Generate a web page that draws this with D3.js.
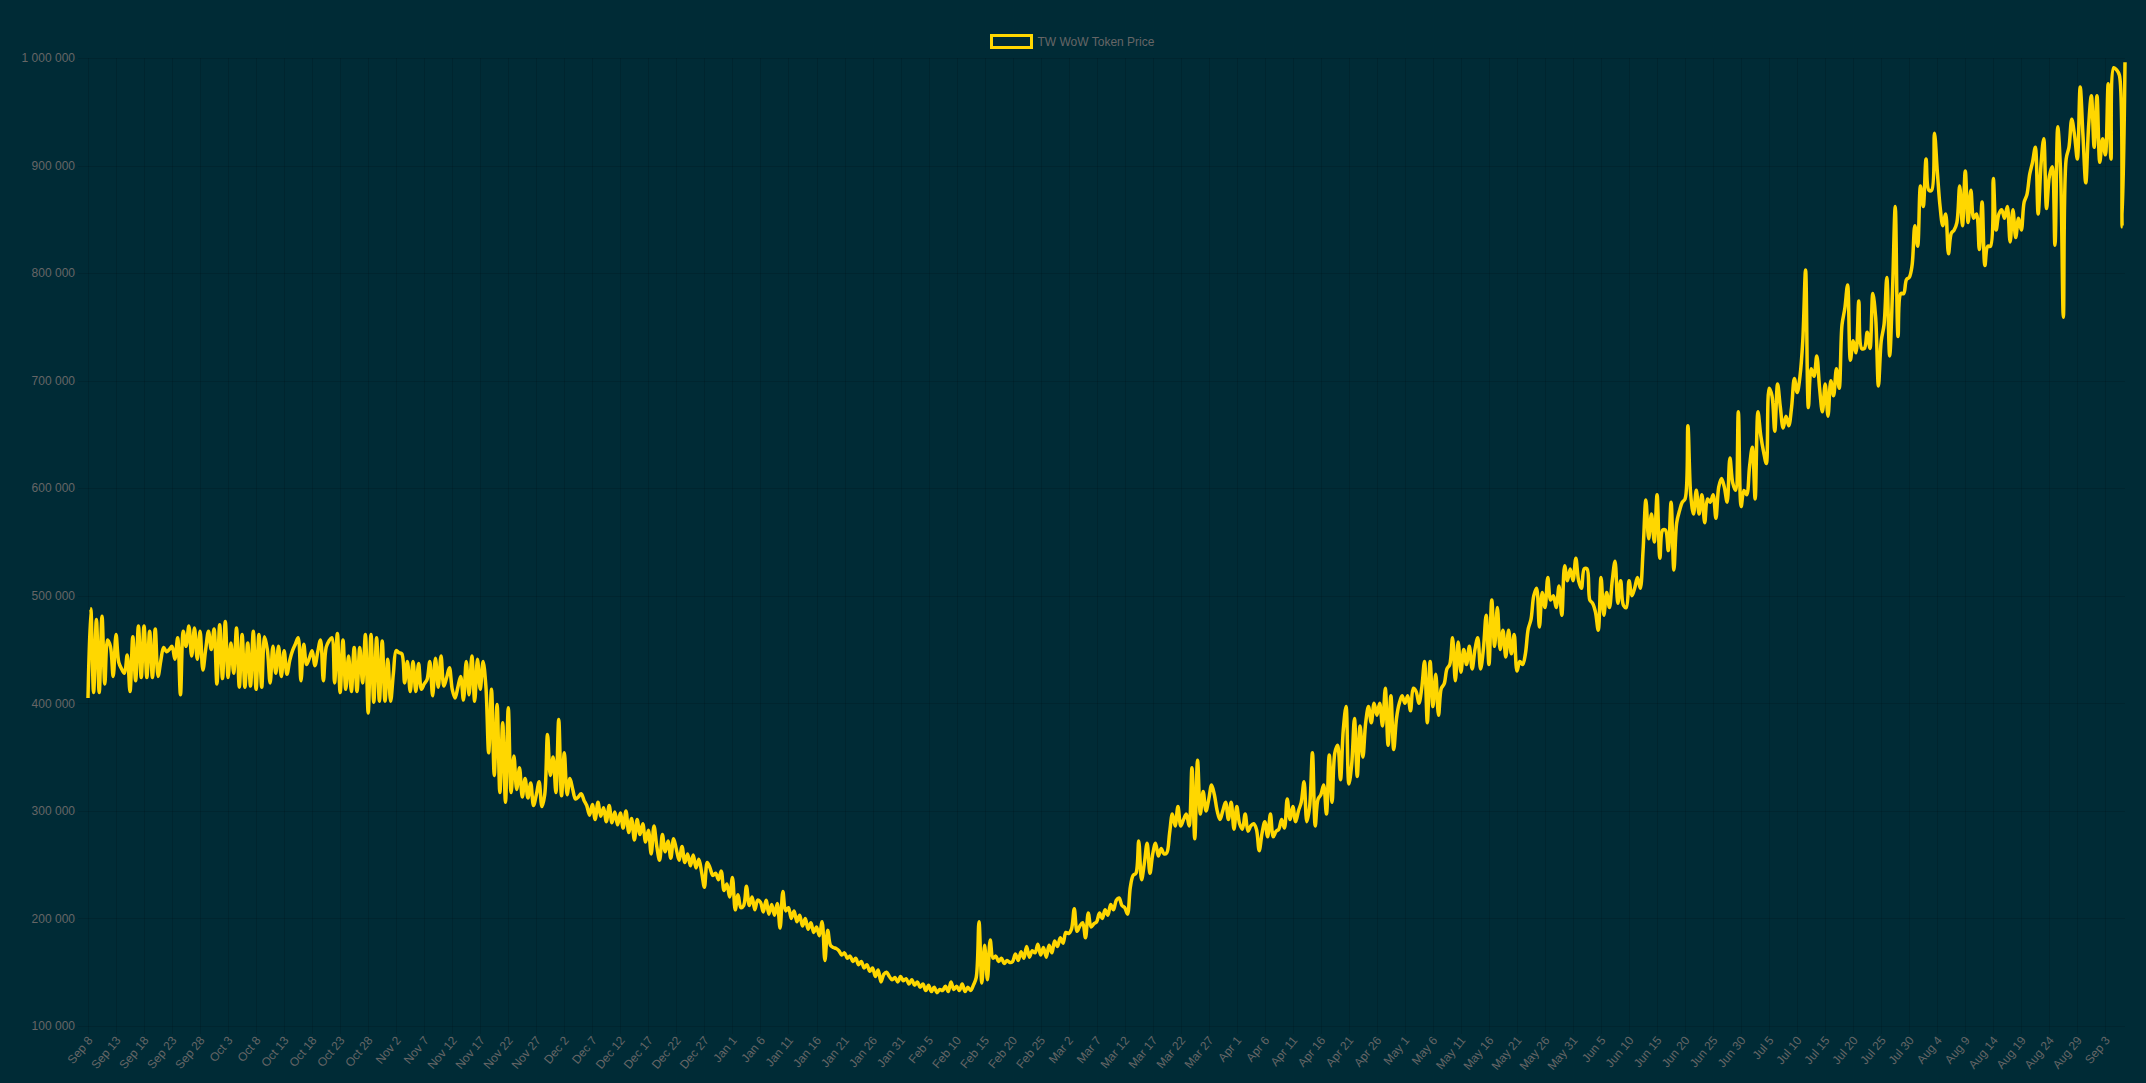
<!DOCTYPE html>
<html>
<head>
<meta charset="utf-8">
<script src="https://cdn.jsdelivr.net/npm/d3@7"></script>
<style>
  body { margin: 0; background: #002b36; }
  text { font-family: Arial, "Liberation Sans", sans-serif; font-size: 12px; fill: #666; }
</style>
</head>
<body>
<div id="chart"></div>
<script>
// token price in thousands of gold, one reading every 12 hours from 8 Sep 2022
let autumnPrices = [
  405, 488, 410, 478, 410, 481, 418, 459, 453, 425,
  464, 438, 432, 428, 445, 411, 462, 421, 472, 424,
  472, 424, 467, 424, 469, 425, 440, 452, 448, 450,
  453, 441, 461, 408, 467, 453, 472, 444, 470, 441,
  467, 431, 450, 467, 450, 469, 418, 473, 423, 476,
  424, 456, 428, 470, 415, 464, 415, 456, 416, 467,
  413, 464, 415, 462, 450, 419, 453, 428, 453, 425,
  449, 427, 440, 449, 455, 461, 421, 455, 436, 442,
  449, 435, 448, 459, 421, 452, 458, 461, 419, 465,
  410, 459, 413, 444, 411, 452, 411, 452, 419, 464,
  391, 464, 401, 461, 402, 458, 402, 441, 402, 428,
  449, 447, 446, 419, 439, 411, 439, 411, 437, 413,
  418, 422, 439, 407, 442, 415, 444, 416, 424, 433,
  413, 405, 415, 425, 403, 439, 408, 444, 402, 441,
  413, 439, 416, 354, 413, 333, 399, 317, 382, 308,
  396, 317, 351, 320, 340, 313, 330, 312, 326, 305,
  315, 327, 304, 315, 371, 333, 350, 317, 385, 314,
  354, 315, 330, 320, 311, 313, 316, 310, 305, 296
];
let winterPrices = [
  306, 292, 308, 295, 303, 290, 305, 289, 299, 287,
  298, 284, 300, 280, 293, 273, 292, 278, 288, 271,
  282, 260, 286, 267, 254, 278, 262, 272, 256, 274,
  264, 254, 267, 252, 260, 249, 259, 247, 255, 243,
  229, 252, 247, 240, 242, 236, 244, 226, 232, 220,
  238, 208, 222, 210, 212, 230, 212, 220, 208, 217,
  215, 206, 217, 204, 213, 203, 214, 191, 225, 207,
  210, 200, 207, 197, 203, 193, 200, 190, 196, 187,
  192, 184, 197, 161, 189, 175, 173, 172, 170, 166,
  168, 163, 165, 160, 163, 157, 160, 154, 157, 151,
  154, 146, 152, 141, 148, 150, 146, 143, 145, 141,
  146, 142, 144, 139, 143, 138, 141, 136, 139, 133,
  138, 132, 136, 131, 134, 133, 137, 132, 141, 134,
  137, 133, 139, 132, 136, 133, 138, 145, 197, 140,
  175, 143, 180, 163, 165, 160, 163, 158, 161, 159,
  160, 167, 161, 169, 163, 174, 164, 170, 168, 176,
  166, 173, 164, 175, 168, 179, 174, 182, 177, 187,
  186, 190, 209, 188, 193, 196, 182, 205, 192, 195,
  197, 205, 200, 208, 203, 213
];
let springPrices = [
  208, 217, 219, 212, 210, 204, 229, 240, 242, 272,
  236, 251, 270, 242, 260, 270, 258, 265, 260, 261,
  279, 297, 286, 304, 286, 292, 297, 286, 340, 274,
  347, 297, 318, 300, 311, 324, 315, 300, 292, 300,
  308, 292, 308, 283, 304, 288, 283, 297, 281,
  286, 288, 283, 263, 279, 290, 276, 297, 276, 281,
  283, 292, 284, 311, 292, 304, 290, 300, 308, 327,
  290, 304, 354, 286, 311, 315, 324, 297, 352, 308,
  354, 361, 329, 375, 397, 325, 343, 386, 332, 379,
  350, 382, 397, 382, 400, 389, 400, 379, 414, 361,
  407, 357, 386, 400, 407, 400, 407, 393, 414, 411,
  400, 414, 439, 382, 439, 397, 427, 389, 414, 418,
  432, 436, 461, 421, 457, 429, 450, 436, 453, 432,
  450, 461, 432, 450, 482, 436, 496, 453, 489, 450,
  468, 443, 468, 446, 464, 430, 439, 436, 446, 469,
  478, 500, 507, 471, 503, 489, 517, 496, 500, 489,
  509, 482, 528, 514, 525, 514, 535, 514, 507, 525,
  525, 496, 493, 485, 468, 517, 482, 503, 489,
  514, 532, 493, 514, 491, 489, 514, 500, 507, 517,
  507, 542, 589, 553
];
let summerPrices = [
  576, 550, 594, 535, 561, 561, 542, 587, 524, 568,
  579, 587, 590, 658, 594, 576, 598, 576, 594,
  568, 590, 587, 594, 572, 601, 609, 601, 587, 628,
  605, 598, 671, 583, 598, 594, 620, 638, 590, 671,
  649, 634, 623, 693, 686, 653, 697, 675, 656, 667,
  658, 675, 702, 689, 704, 737, 803, 675, 711, 704,
  723, 693, 671, 697, 667, 700, 686, 711, 693, 752,
  767, 789, 719, 737, 726, 774, 730, 730, 745, 730,
  781, 759, 695, 737, 752, 796, 723, 781, 862, 741,
  781, 781, 794, 796, 807, 844, 825, 881, 862, 906,
  877, 877, 930, 895, 862, 844, 855, 818, 837, 840,
  847, 881, 844, 895, 847, 877, 851, 855, 822, 866,
  807, 825, 825, 888, 840, 855, 859, 851, 862, 829,
  859, 833, 851, 840, 866, 873, 892, 903, 917,
  855, 900, 925, 860, 890, 899, 826, 936, 895, 759,
  906, 917, 943, 928, 906, 973, 928, 884, 936, 965,
  917, 965, 903, 925, 910, 976, 906, 991, 989, 984, 843, 996
];

let seriesName = 'TW WoW Token Price';
let startDate = Date.UTC(2022, 8, 8);
let stepHours = 12;
let tickEveryDays = 5;
let yTicks = [100000, 200000, 300000, 400000, 500000, 600000, 700000, 800000, 900000, 1000000];

let width = 2146;
let height = 1083;
let plot = {left: 88, right: 2125, top: 58, bottom: 1026};
let gridColor = 'rgba(0, 0, 0, 0.12)';
let lineColor = '#ffd700';

let data = [].concat(autumnPrices, winterPrices, springPrices, summerPrices)
  .map((p, i) => ({date: new Date(startDate + i * stepHours * 3600e3), price: p * 1000}));

let xScale = d3.scaleTime()
  .domain(d3.extent(data, d => d.date))
  .range([plot.left, plot.right]);

let yScale = d3.scaleLinear()
  .domain([100000, 1000000])
  .range([plot.bottom, plot.top]);

let xTicks = d3.utcDay.range(new Date(startDate), xScale.domain()[1])
  .filter((d, i) => i % tickEveryDays === 0);
let fmtDate = d3.utcFormat('%b %-d');
let fmtPrice = d => d3.format(',')(d).replace(/,/g, ' ');

let svg = d3.select('#chart')
  .append('svg')
  .attr('width', width)
  .attr('height', height);

svg.append('rect')
  .attr('width', width)
  .attr('height', height)
  .attr('fill', '#002b36');

// grid
svg.append('g')
  .selectAll('line')
  .data(xTicks)
  .enter()
  .append('line')
  .attr('x1', d => Math.round(xScale(d)) + 0.5)
  .attr('x2', d => Math.round(xScale(d)) + 0.5)
  .attr('y1', plot.top)
  .attr('y2', plot.bottom + 8)
  .attr('stroke', gridColor);

svg.append('g')
  .selectAll('line')
  .data(yTicks)
  .enter()
  .append('line')
  .attr('x1', plot.left - 10)
  .attr('x2', plot.right)
  .attr('y1', d => Math.round(yScale(d)) + 0.5)
  .attr('y2', d => Math.round(yScale(d)) + 0.5)
  .attr('stroke', gridColor);

// y labels
svg.append('g')
  .selectAll('text')
  .data(yTicks)
  .enter()
  .append('text')
  .attr('x', plot.left - 13)
  .attr('y', d => yScale(d))
  .attr('dy', '0.35em')
  .attr('text-anchor', 'end')
  .text(fmtPrice);

// x labels, rotated like the original
svg.append('g')
  .selectAll('text')
  .data(xTicks)
  .enter()
  .append('text')
  .attr('transform', d => 'translate(' + (xScale(d) + 2) + ',' + (plot.bottom + 12) + ') rotate(-50)')
  .attr('dy', '0.35em')
  .attr('text-anchor', 'end')
  .text(fmtDate);

let line = d3.line()
  .x(d => xScale(d.date))
  .y(d => yScale(d.price))
  .curve(d3.curveCatmullRom);

svg.append('path')
  .datum(data)
  .attr('fill', 'none')
  .attr('stroke', lineColor)
  .attr('stroke-width', 3.5)
  .attr('stroke-linejoin', 'round')
  .attr('d', line);

// legend
let legend = svg.append('g')
  .attr('transform', 'translate(991.5,35.5)');
legend.append('rect')
  .attr('width', 40)
  .attr('height', 12)
  .attr('fill', 'none')
  .attr('stroke', lineColor)
  .attr('stroke-width', 3);
legend.append('text')
  .attr('x', 46)
  .attr('y', 6)
  .attr('dy', '0.35em')
  .text(seriesName);
</script>
</body>
</html>
